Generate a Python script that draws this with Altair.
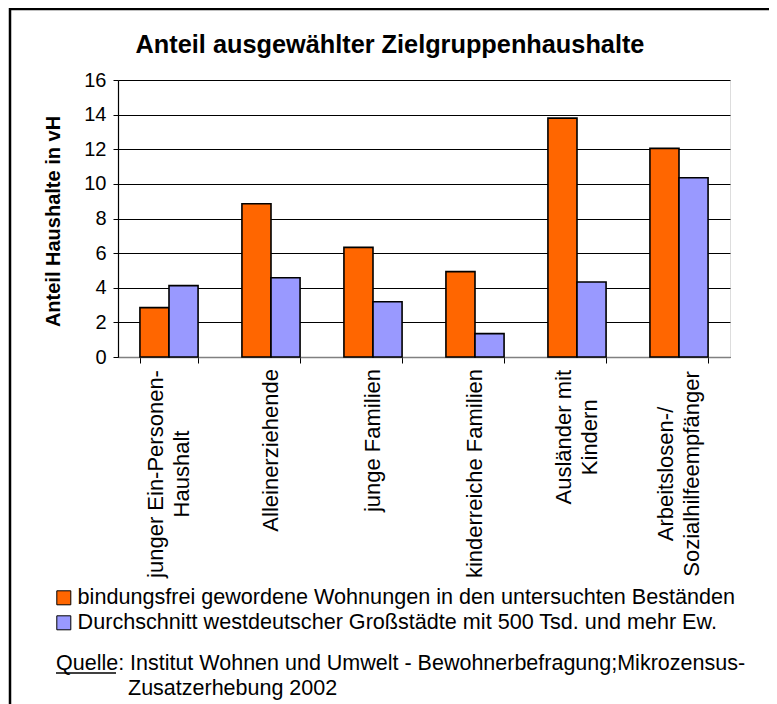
import altair as alt
import pandas as pd

# ---- data ----
categories = [
    "junger Ein-Personen-\nHaushalt",
    "Alleinerziehende",
    "junge Familien",
    "kinderreiche Familien",
    "Ausländer mit\nKindern",
    "Arbeitslosen-/\nSozialhilfeempfänger",
]
series_names = [
    "bindungsfrei gewordene Wohnungen in den untersuchten Beständen",
    "Durchschnitt westdeutscher Großstädte mit 500 Tsd. und mehr Ew.",
]
values_freed = [2.85, 8.85, 6.33, 4.93, 13.8, 12.05]
values_avg = [4.12, 4.58, 3.19, 1.35, 4.33, 10.35]
series_colors = ["#FF6600", "#9999FF"]
y_ticks = [0, 2, 4, 6, 8, 10, 12, 14, 16]

title_text = "Anteil ausgewählter Zielgruppenhaushalte"
y_title = "Anteil Haushalte in vH"
source_label = "Quelle:"
source_line1 = "Institut Wohnen und Umwelt - Bewohnerbefragung;Mikrozensus-"
source_line2 = "Zusatzerhebung 2002"

FONT = "Liberation Sans"

rows = []
for c, a, b in zip(categories, values_freed, values_avg):
    rows.append({"Kategorie": c, "Reihe": series_names[0], "Wert": a})
    rows.append({"Kategorie": c, "Reihe": series_names[1], "Wert": b})
df = pd.DataFrame(rows)
cat_df = pd.DataFrame({"Kategorie": categories})
one = pd.DataFrame({"k": [0]})

x_enc = alt.X(
    "Kategorie:N",
    sort=categories,
    scale=alt.Scale(paddingInner=0.43, paddingOuter=0.215),
    axis=alt.Axis(
        title=None,
        labels=False,
        tickBand="extent",
        tickSize=6,
        tickColor="black",
        tickWidth=1,
        domainColor="#808080",
        domainWidth=1.5,
        grid=False,
    ),
)

bars = alt.Chart(df).mark_bar(stroke="black", strokeWidth=1.6).encode(
    x=x_enc,
    xOffset=alt.XOffset("Reihe:N", sort=series_names),
    y=alt.Y(
        "Wert:Q",
        scale=alt.Scale(domain=[0, 16], nice=False),
        axis=alt.Axis(
            values=y_ticks,
            title=y_title,
            titleFontSize=20,
            titleFontWeight="bold",
            titleFont=FONT,
            titleColor="black",
            titleX=-55,
            titleY=141,
            labelFontSize=20,
            labelFont=FONT,
            labelColor="black",
            labelPadding=7,
            tickSize=5,
            tickColor="black",
            domainColor="black",
            domainWidth=1.2,
            gridColor="black",
            gridWidth=1,
        ),
    ),
    color=alt.Color(
        "Reihe:N",
        scale=alt.Scale(domain=series_names, range=series_colors),
        legend=alt.Legend(
            title=None,
            orient="none",
            legendX=-65,
            legendY=507,
            direction="vertical",
            symbolType="square",
            symbolSize=196,
            symbolStrokeColor="black",
            symbolStrokeWidth=1,
            labelFontSize=21.6,
            labelFont=FONT,
            labelColor="black",
            labelOffset=3,
            labelLimit=0,
            rowPadding=2,
            padding=0,
        ),
    ),
)

label_style = dict(
    font=FONT, fontSize=22, lineHeight=26, angle=270,
    baseline="middle", color="black", lineBreak="\n",
)

# single-line labels: end of text at the axis
x_labels_single = alt.Chart(cat_df).transform_filter(
    "indexof(datum.Kategorie, '\\n') < 0"
).mark_text(align="right", **label_style).encode(
    x=alt.X("Kategorie:N", sort=categories), y=alt.value(289), text="Kategorie:N"
)

# multi-line labels: block starts at the axis, lines centred within the block
x_labels_multi = alt.Chart(cat_df).transform_filter(
    "indexof(datum.Kategorie, '\\n') >= 0"
).transform_calculate(
    nchar="max(length(split(datum.Kategorie, '\\n')[0]), length(split(datum.Kategorie, '\\n')[1]))"
).mark_text(
    align="center", dy=-13, dx=alt.expr("-5.25 * datum.nchar"), **label_style
).encode(
    x=alt.X("Kategorie:N", sort=categories), y=alt.value(289), text="Kategorie:N"
)

frame = alt.Chart(one).mark_rect(fillOpacity=0, stroke="black", strokeWidth=2.5).encode(
    x=alt.value(-108), x2=alt.value(700), y=alt.value(-71), y2=alt.value(720)
)

title = alt.Chart(one).mark_text(
    text=title_text, font=FONT, fontSize=25.3, fontWeight="bold", align="center",
    baseline="alphabetic", color="black"
).encode(x=alt.value(272), y=alt.value(-27))

src_label = alt.Chart(one).mark_text(
    text=source_label, font=FONT, fontSize=21.5, align="left", baseline="alphabetic", color="black"
).encode(x=alt.value(-62), y=alt.value(590))

src_underline = alt.Chart(one).mark_rule(color="black", strokeWidth=1.5).encode(
    x=alt.value(-62), x2=alt.value(-2), y=alt.value(593)
)

src1 = alt.Chart(one).mark_text(
    text=source_line1, font=FONT, fontSize=21.5, align="left", baseline="alphabetic", color="black"
).encode(x=alt.value(12), y=alt.value(590))

src2 = alt.Chart(one).mark_text(
    text=source_line2, font=FONT, fontSize=21.5, align="left", baseline="alphabetic", color="black"
).encode(x=alt.value(10), y=alt.value(615))

chart = alt.layer(
    frame, bars, x_labels_single, x_labels_multi, title, src_label, src_underline, src1, src2
).properties(
    width=612,
    height=277,
    autosize=alt.AutoSizeParams(type="none"),
    padding={"left": 110, "top": 72, "right": 39, "bottom": 347},
    background="white",
).configure_view(stroke="#808080", strokeWidth=1.5).configure(font=FONT)

chart.save("out.html", embed_options={"renderer": "svg", "actions": False})
